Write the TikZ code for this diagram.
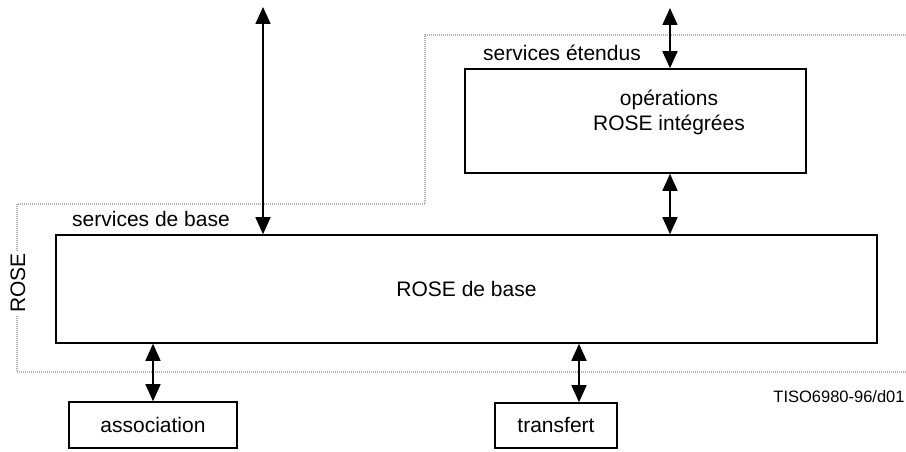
\documentclass[tikz,border=0pt]{standalone}
\usepackage{fontspec}
\setmainfont{Liberation Sans}
\usetikzlibrary{arrows.meta}

\begin{document}
\begin{tikzpicture}[x=1pt, y=-1pt,
		box/.style={draw, line width=1.6pt, inner sep=0pt},
		link/.style={line width=1.6pt, {Triangle[length=17pt,width=15pt]}-{Triangle[length=17pt,width=15pt]}},
		frame/.style={draw=gray!60, line width=2.2pt, dash pattern=on 1pt off 1pt},
		txt/.style={font=\fontsize{21}{25}\selectfont}]
				\useasboundingbox (0,0) rectangle (906,452);

				% pointille ROSE
				\draw[frame] (906,35) -- (425,35) -- (425,204) -- (17,204) -- (17,372) -- (906,372);
				\node (Rose) [txt, fill=white, rotate=90, inner sep=2pt] at (18,283) {ROSE};

				\node (Base) [box, txt, minimum width=821pt, minimum height=108pt] at (466.5,289) {ROSE de base};
				\node (BaseLbl) [txt] at (151,219) {services de base};

				\node (Ops) [box, minimum width=341pt, minimum height=104pt] at (635.5,121) {};
				\node (OpsTxt) [txt, align=center] at (669,112) {opérations\\ROSE intégrées};
				\node (OpsLbl) [txt] at (562,53) {services étendus};

				\node (Assoc) [box, txt, minimum width=168pt, minimum height=46pt] at (153,425) {association};
				\node (Transf) [box, txt, minimum width=122pt, minimum height=45pt] at (556,425.5) {transfert};

				\node (Ref) [font=\fontsize{16.5}{19}\selectfont] at (839,397) {TISO6980-96/d01};

				\coordinate (TopL) at (263,7);
				\coordinate (TopR) at (670,8);
				\coordinate (ArrT) at (579,0);

				\draw[link] (TopL) -- (TopL |- Base.north);
				\draw[link] (TopR) -- (TopR |- Ops.north);
				\draw[link] (TopR |- Ops.south) -- (TopR |- Base.north);
				\draw[link] (Base.south -| Assoc.north) -- (Assoc.north);
				\draw[link] (ArrT |- Base.south) -- (ArrT |- Transf.north);
			\end{tikzpicture}
\end{document}
